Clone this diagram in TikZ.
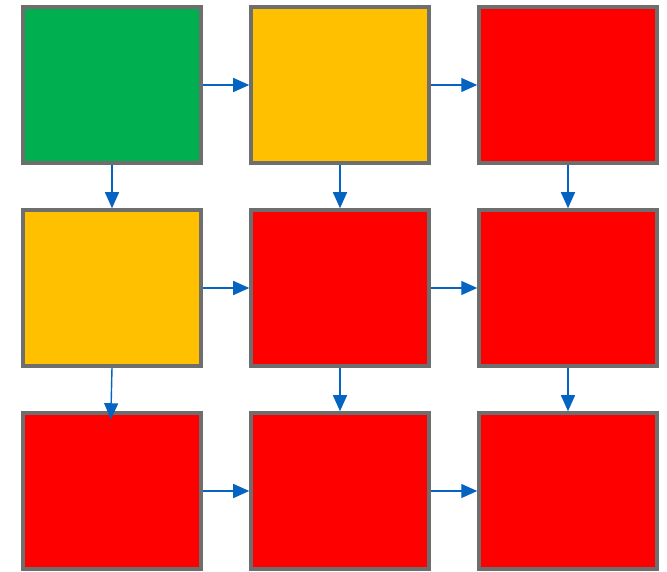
\documentclass[tikz,border=0pt]{standalone}
\usepackage{xcolor}
\usepackage{tikz}
\usetikzlibrary{positioning,arrows.meta}
\definecolor{cgreen}{HTML}{00B050}
\definecolor{cyellow}{HTML}{FFC000}
\definecolor{cred}{HTML}{FF0000}
\definecolor{cborde}{HTML}{6E6E6E}
\definecolor{cflecha}{HTML}{0563C1}

\begin{document}
\begin{tikzpicture}[
  celda/.style={draw=cborde, line width=2pt, minimum width=3.56cm, minimum height=3.12cm, inner sep=0pt},
  flecha/.style={-{Triangle[length=0.32cm,width=0.28cm]}, cflecha, line width=0.8pt}]
  \useasboundingbox (0,0) rectangle (13.34,11.42);
  % fila superior
  \node[celda, fill=cgreen]  (a1) at (2.24,9.72) {};
  \node[celda, fill=cyellow] (a2) at (6.80,9.72) {};
  \node[celda, fill=cred]    (a3) at (11.36,9.72) {};
  % fila media
  \node[celda, fill=cyellow] (b1) at (2.24,5.66) {};
  \node[celda, fill=cred]    (b2) at (6.80,5.66) {};
  \node[celda, fill=cred]    (b3) at (11.36,5.66) {};
  % fila inferior
  \node[celda, fill=cred]    (c1) at (2.24,1.60) {};
  \node[celda, fill=cred]    (c2) at (6.80,1.60) {};
  \node[celda, fill=cred]    (c3) at (11.36,1.60) {};
  % horizontales
  \foreach \f in {a,b,c}{
    \draw[flecha] (\f1.east) -- (\f2.west);
    \draw[flecha] (\f2.east) -- (\f3.west);
  }
  % verticales
  \draw[flecha] (a1.south) -- (b1.north);
  \draw[flecha] (a2.south) -- (b2.north);
  \draw[flecha] (a3.south) -- (b3.north);
  \draw[flecha, shorten >=-0.16cm] (b1.south) -- ([xshift=-0.02cm]c1.north);
  \draw[flecha] (b2.south) -- (c2.north);
  \draw[flecha] (b3.south) -- (c3.north);
\end{tikzpicture}
\end{document}
